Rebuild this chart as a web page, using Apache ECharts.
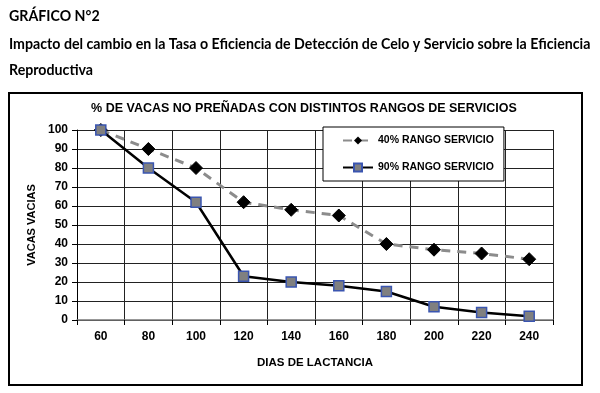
<!DOCTYPE html>
<html><head><meta charset="utf-8">
<script src="https://cdn.jsdelivr.net/npm/echarts@6/dist/echarts.min.js"></script>
<style>html,body{margin:0;padding:0;background:#fff}#c{width:600px;height:393px}</style>
</head><body><div id="c"></div>
<script>
const dias = ['60','80','100','120','140','160','180','200','220','240'];
const rango40 = [100, 90, 80, 62, 58, 55, 40, 37, 35, 32];
const rango90 = [100, 80, 62, 23, 20, 18, 15, 7, 4, 2];
const yTicks = [0, 10, 20, 30, 40, 50, 60, 70, 80, 90, 100];
const name40 = '40% RANGO SERVICIO';
const name90 = '90% RANGO SERVICIO';

const chart = echarts.init(document.getElementById('c'));
const hdr = {fontFamily: 'Lato, "Open Sans", sans-serif', fontWeight: 'bold', fontSize: 14.2, color: '#000'};
const ax = {fontFamily: '"Liberation Sans", Arial, sans-serif', fontWeight: 'bold', fontSize: 12, color: '#000'};
chart.setOption({
  animation: false,
  backgroundColor: '#fff',
  title: [
    {text: 'GRÁFICO N°2', left: 4, top: 4, textStyle: hdr},
    {text: 'Impacto del cambio en la Tasa o Eficiencia de Detección de Celo y Servicio sobre la Eficiencia', left: 4, top: 32, textStyle: hdr},
    {text: 'Reproductiva', left: 4, top: 58, textStyle: hdr},
    {text: '% DE VACAS NO PREÑADAS CON DISTINTOS RANGOS DE SERVICIOS', left: 299, textAlign: 'center', top: 97, textStyle: Object.assign({}, ax, {fontSize: 12.5})}
  ],
  graphic: [{type: 'rect', shape: {x: 9, y: 93, width: 573, height: 292}, style: {fill: 'none', stroke: '#000', lineWidth: 2}, silent: true, z: -1}],
  legend: {
    orient: 'vertical', left: 323, top: 127,
    backgroundColor: '#fff', borderColor: '#000', borderWidth: 1,
    padding: [8, 10, 8, 19], itemGap: 16, itemWidth: 30, itemHeight: 10,
    textStyle: Object.assign({}, ax, {fontSize: 10.5}), data: [name40, name90]
  },
  grid: {left: 77, right: 47, top: 130, bottom: 73},
  xAxis: {
    type: 'category', data: dias, boundaryGap: true,
    name: 'DIAS DE LACTANCIA', nameLocation: 'middle', nameGap: 37,
    nameTextStyle: Object.assign({}, ax, {fontSize: 11.5}),
    axisLine: {lineStyle: {color: '#777', width: 1.5}},
    axisTick: {show: true, length: 5, lineStyle: {color: '#000'}},
    axisLabel: Object.assign({margin: 11}, ax),
    splitLine: {show: true, lineStyle: {color: '#222', width: 1}}
  },
  yAxis: {
    type: 'value', min: 0, max: 100, interval: 10,
    name: 'VACAS VACIAS', nameLocation: 'middle', nameGap: 36, nameRotate: 90,
    nameTextStyle: Object.assign({}, ax, {fontSize: 11}),
    axisLine: {show: true, lineStyle: {color: '#000', width: 1}},
    axisTick: {show: true, length: 5, lineStyle: {color: '#000'}},
    axisLabel: Object.assign({margin: 9, formatter: v => yTicks.includes(v) ? String(v) : ''}, ax),
    splitLine: {show: true, lineStyle: {color: '#222', width: 1}}
  },
  series: [
    {name: name40, type: 'line', data: rango40, symbol: 'diamond', symbolSize: 13,
     lineStyle: {color: '#8c8c8c', width: 3, type: [9, 7]},
     itemStyle: {color: '#000', borderColor: '#000'}, z: 2},
    {name: name90, type: 'line', data: rango90, symbol: 'rect', symbolSize: 10,
     lineStyle: {color: '#000', width: 2.5, type: 'solid'},
     itemStyle: {color: '#808080', borderColor: '#3a55b0', borderWidth: 1.5}, z: 3}
  ]
});
</script></body></html>
